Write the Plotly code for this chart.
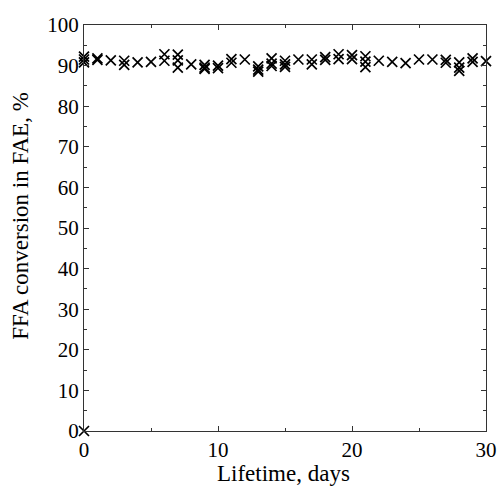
import plotly.graph_objects as go

# Lifetime (days) and FFA conversion (%) — replicate measurements share a day
days = [0, 0, 0, 0,
        1, 1, 2, 3, 3, 4, 5, 6, 6, 7, 7, 7,
        8, 9, 9, 9, 10, 10, 11, 11, 12, 13, 13, 13,
        14, 14, 14, 15, 15, 15, 16, 17, 17, 18, 18,
        19, 19, 20, 20, 21, 21, 21, 22, 23, 24, 25,
        26, 27, 27, 28, 28, 28, 29, 29, 30]
conversion = [0.0, 92.2, 91.5, 90.8,
              91.8, 91.4, 91.3, 91.2, 90.2, 90.8, 90.9, 92.8, 91.2, 92.7, 91.3, 89.5,
              90.3, 90.2, 89.5, 89.2, 90.0, 89.4, 91.6, 90.7, 91.5, 89.8, 89.0, 88.5,
              91.8, 90.5, 89.9, 91.2, 90.3, 89.7, 91.5, 91.5, 90.3, 92.1, 91.4,
              92.8, 91.6, 92.6, 91.6, 92.3, 91.0, 89.6, 91.2, 90.9, 90.6, 91.5,
              91.5, 91.4, 90.7, 90.8, 89.5, 88.7, 91.8, 90.9, 91.1]

x_ticks = [0, 10, 20, 30]
y_ticks = [0, 10, 20, 30, 40, 50, 60, 70, 80, 90, 100]
x_title = "Lifetime, days"
y_title = "FFA conversion in FAE, %"

FONT = "Liberation Serif"

fig = go.Figure()
fig.add_trace(go.Scatter(
    x=days, y=conversion, mode="markers",
    marker=dict(symbol="x-thin", size=10, line=dict(width=1.7, color="black"), color="black"),
    cliponaxis=False, showlegend=False,
))

axis_common = dict(
    showgrid=False, zeroline=False, showline=True, linecolor="#333", linewidth=1.3,
    mirror="ticks", ticks="inside", ticklen=5, tickwidth=1, tickcolor="#333",
    tickfont=dict(family=FONT, size=21, color="black"), automargin=False,
)

fig.update_layout(
    width=499, height=487,
    margin=dict(l=84, r=13, t=25, b=56),
    paper_bgcolor="white", plot_bgcolor="white",
    font=dict(family=FONT, color="black"),
    xaxis=dict(range=[0, 30], tickvals=x_ticks, ticktext=[str(v) for v in x_ticks],
               minor=dict(ticks="inside", ticklen=3, dtick=5, tickcolor="#333"),
               **axis_common),
    yaxis=dict(range=[0, 100], tickvals=y_ticks, ticktext=[str(v) for v in y_ticks],
               minor=dict(ticks="inside", ticklen=3, dtick=5, tickcolor="#333"),
               **axis_common),
    annotations=[
        dict(text=x_title, xref="paper", yref="paper", x=0.497, y=-0.1059,
             xanchor="center", yanchor="middle", showarrow=False,
             font=dict(family=FONT, size=23, color="black")),
        dict(text=y_title, xref="paper", yref="paper", x=-0.157, y=0.5296,
             xanchor="center", yanchor="middle", textangle=-90, showarrow=False,
             font=dict(family=FONT, size=23, color="black")),
    ],
)

fig.write_html("out.html", config={"displayModeBar": False},
               post_script="document.body.style.margin='0';")
